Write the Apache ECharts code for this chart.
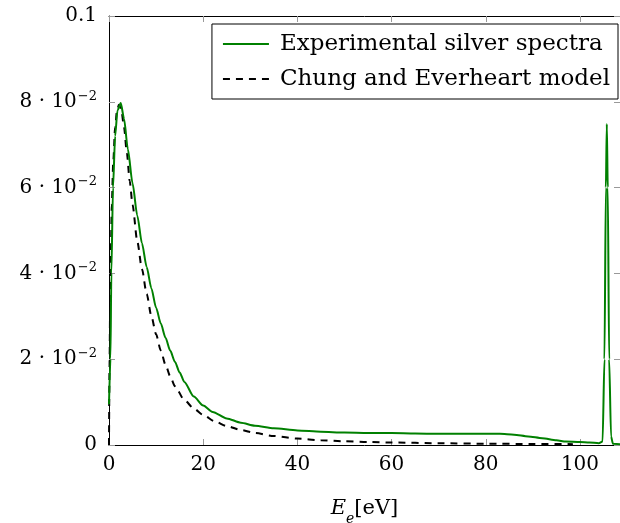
<!DOCTYPE html>
<html>
<head>
<meta charset="utf-8">
<script src="https://cdn.jsdelivr.net/npm/echarts@6/dist/echarts.min.js"></script>
<style>
  html, body { margin: 0; padding: 0; background: #fff; }
  #chart { width: 620px; height: 523px; }
</style>
</head>
<body>
<div id="chart"></div>
<script>
// Measured electron energy spectrum for silver (energy in eV, intensity)
const expEnergy = [0, 0.3, 0.5, 0.85, 1.3, 1.8, 2.5, 3.2, 4.0, 5, 6, 7, 8, 9, 10, 11, 12, 13, 14, 15, 16, 18, 20, 22, 25, 28, 31, 35, 40, 45, 50, 55, 60, 65, 70, 75, 80, 83, 86, 89, 92, 95, 97, 100, 102, 104, 104.8, 105.2, 105.5, 105.7, 105.9, 106.2, 106.6, 107, 108.5];
const expValues = [0.0095, 0.020, 0.040, 0.060, 0.072, 0.078, 0.0797, 0.076, 0.069, 0.061, 0.0535, 0.047, 0.0415, 0.0365, 0.032, 0.0283, 0.025, 0.022, 0.0194, 0.0169, 0.0147, 0.0113, 0.0092, 0.0077, 0.0062, 0.0052, 0.0045, 0.0039, 0.0034, 0.0031, 0.0029, 0.0028, 0.0028, 0.0027, 0.0026, 0.0026, 0.0026, 0.0026, 0.0024, 0.0020, 0.0016, 0.0011, 0.0008, 0.0007, 0.0006, 0.0004, 0.0008, 0.020, 0.060, 0.0748, 0.060, 0.020, 0.002, 0.0003, 0.0002];

// Chung and Everheart secondary-electron model curve
const modelEnergy = [0, 0.1, 0.25, 0.4, 0.6, 0.9, 1.3, 1.7, 2.1, 2.6, 3.2, 3.8, 4.4, 5, 6, 7, 8, 9, 10, 11, 12, 13, 14, 16, 18, 20, 22.5, 25, 28, 31, 35, 40, 45, 50, 55, 60, 70, 80, 90, 98.5];
const modelValues = [0, 0.017, 0.033, 0.045, 0.056, 0.066, 0.074, 0.078, 0.0793, 0.0783, 0.074, 0.068, 0.0615, 0.056, 0.0475, 0.041, 0.0352, 0.030, 0.0258, 0.0220, 0.0187, 0.0160, 0.0137, 0.0105, 0.0085, 0.0070, 0.0055, 0.0044, 0.0035, 0.0028, 0.0021, 0.0015, 0.0011, 0.00088, 0.0007, 0.00058, 0.00042, 0.0003, 0.00024, 0.0002];

const xTicks = [0, 20, 40, 60, 80, 100];
const yTicks = [0, 0.02, 0.04, 0.06, 0.08, 0.1];

const seriesNames = ['Experimental silver spectra', 'Chung and Everheart model'];

const FONT = 'DejaVu Serif';
const zip = (xs, ys) => xs.map((x, i) => [x, ys[i]]);

function yLabel(v) {
  if (Math.abs(v) < 1e-12) return '0';
  if (Math.abs(v - 0.1) < 1e-9) return '0.1';
  const m = Math.round(v * 100);
  return '{b|' + m + ' · 10}{s|−2}';
}

const chart = echarts.init(document.getElementById('chart'), null, { renderer: 'canvas' });

const tickStyle = { show: true, inside: true, length: 6, lineStyle: { color: '#999', width: 1 } };

chart.setOption({
  animation: false,
  backgroundColor: '#fff',
  grid: { left: 109, right: 0, top: 16, bottom: 78, show: false, containLabel: false, outerBoundsMode: 'none' },
  legend: {
    orient: 'vertical',
    right: 2,
    top: 24,
    padding: [7, 8, 7, 10],
    itemGap: 9,
    itemWidth: 46,
    itemHeight: 14,
    borderColor: '#000',
    borderWidth: 1,
    borderRadius: 0,
    backgroundColor: '#fff',
    itemStyle: { opacity: 0, borderWidth: 0 },
    textStyle: { fontFamily: FONT, fontSize: 23, lineHeight: 26, color: '#000', padding: [0, 0, 0, 6] },
    data: seriesNames
  },
  xAxis: [{
    type: 'value', min: 0, max: 108.5, interval: 20,
    axisLine: { show: true, onZero: false, lineStyle: { color: '#000', width: 1 } },
    axisTick: tickStyle,
    splitLine: { show: false },
    axisLabel: {
      margin: 10, fontFamily: FONT, fontSize: 20, color: '#000',
      showMaxLabel: false,
      formatter: v => xTicks.includes(v) ? String(v) : ''
    },
    name: '{i|E}{sub|e}{r|[eV]}',
    nameLocation: 'middle',
    nameGap: 51,
    nameTextStyle: {
      rich: {
        i: { fontFamily: FONT, fontStyle: 'italic', fontSize: 21, color: '#000', lineHeight: 26 },
        sub: { fontFamily: FONT, fontStyle: 'italic', fontSize: 14, color: '#000', lineHeight: 26, verticalAlign: 'bottom', padding: [0, 0, -4, 0] },
        r: { fontFamily: FONT, fontSize: 21, color: '#000', lineHeight: 26 }
      }
    }
  }, {
    type: 'value', position: 'top', min: 0, max: 108.5, interval: 20,
    axisLine: { show: true, onZero: false, lineStyle: { color: '#000', width: 1 } },
    axisTick: tickStyle,
    axisLabel: { show: false },
    splitLine: { show: false }
  }],
  yAxis: [{
    type: 'value', min: 0, max: 0.1, interval: 0.02,
    axisLine: { show: true, onZero: false, lineStyle: { color: '#000', width: 1 } },
    axisTick: tickStyle,
    splitLine: { show: false },
    axisLabel: {
      margin: 12, fontFamily: FONT, fontSize: 20, color: '#000',
      formatter: v => yTicks.some(t => Math.abs(t - v) < 1e-9) ? yLabel(v) : '',
      rich: {
        b: { fontFamily: FONT, fontSize: 20, color: '#000', lineHeight: 24 },
        s: { fontFamily: FONT, fontSize: 13, color: '#000', lineHeight: 24, verticalAlign: 'top', padding: [0, 0, 12, 1] }
      }
    }
  }, {
    type: 'value', position: 'right', min: 0, max: 0.1, interval: 0.02,
    axisLine: { show: true, onZero: false, lineStyle: { color: '#000', width: 1 } },
    axisTick: tickStyle,
    axisLabel: { show: false },
    splitLine: { show: false }
  }],
  series: [{
    name: seriesNames[0],
    type: 'line',
    xAxisIndex: 0, yAxisIndex: 0,
    data: zip(expEnergy, expValues),
    symbol: 'none',
    smooth: 0.25,
    smoothMonotone: 'x',
    lineStyle: { color: '#008000', width: 2 },
    itemStyle: { color: '#008000' },
    z: 3
  }, {
    name: seriesNames[1],
    type: 'line',
    xAxisIndex: 0, yAxisIndex: 0,
    data: zip(modelEnergy, modelValues),
    symbol: 'none',
    smooth: 0.25,
    smoothMonotone: 'x',
    lineStyle: { color: '#000', width: 2, type: [7, 6] },
    itemStyle: { color: '#000' },
    z: 2
  }]
});
</script>
</body>
</html>
